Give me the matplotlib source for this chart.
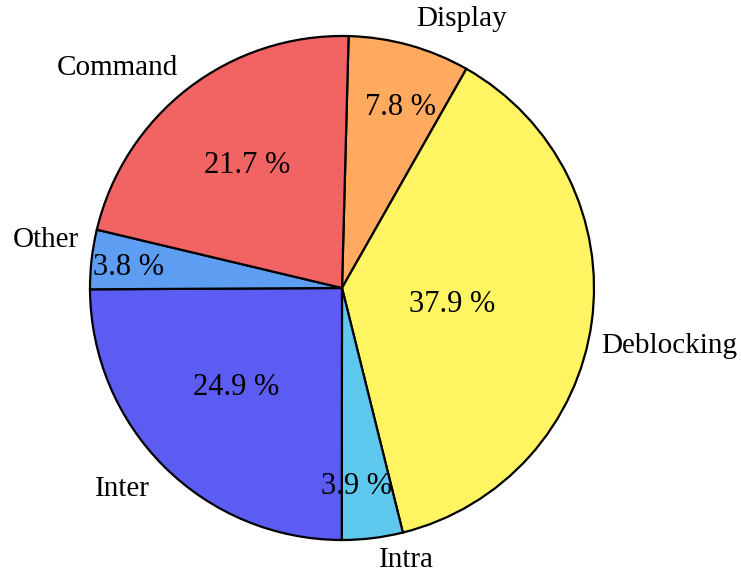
import matplotlib
matplotlib.use("Agg")
import matplotlib.pyplot as plt
import numpy as np

categories = ["Display", "Deblocking", "Intra", "Inter", "Other", "Command"]
values = [7.8, 37.9, 3.9, 24.9, 3.8, 21.7]
colors = ["#FFAA5E", "#FFF462", "#5EC8EE", "#5C5CF2", "#5E9EF2", "#F26464"]

# label placement (polar, in pie-radius units)
name_pos = [(66.1, 1.167), (-10.0, 1.32), (-76.6, 1.11), (-137.5, 1.18), (170.8, 1.19), (135.6, 1.25)]
pct_pos = [(72.0, 0.755), (-8.3, 0.441), (-85.7, 0.79), (-136.7, 0.578), (174.4, 0.85), (127.9, 0.614)]

plt.rcParams['font.family'] = ['Liberation Serif', 'DejaVu Serif']

W, H, dpi = 741, 577, 100
fig = plt.figure(figsize=(W / dpi, H / dpi), dpi=dpi)
ax = fig.add_axes([0, 0, 1, 1])
cx, cy, R = 342, 288, 252

ax.pie(values, colors=colors, startangle=88.5, counterclock=False, radius=1.0,
       wedgeprops=dict(edgecolor='black', linewidth=1.6), frame=False)
ax.set_xlim(-cx / R, (W - cx) / R)
ax.set_ylim(-(H - cy) / R, cy / R)
ax.set_aspect('equal')
ax.axis('off')

for name, v, (a, r), (pa, pr) in zip(categories, values, name_pos, pct_pos):
    t = np.deg2rad(a)
    ax.text(r * np.cos(t), r * np.sin(t), name, ha='center', va='center', fontsize=21)
    t = np.deg2rad(pa)
    ax.text(pr * np.cos(t), pr * np.sin(t), f"{v:.1f} %", ha='center', va='center', fontsize=22)

fig.savefig("out.png", dpi=dpi)
